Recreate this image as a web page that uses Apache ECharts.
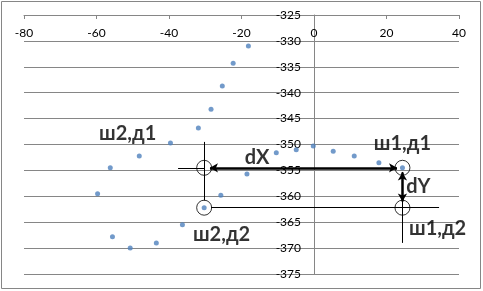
<!DOCTYPE html>
<html><head><meta charset="utf-8">
<script src="https://cdn.jsdelivr.net/npm/echarts@6/dist/echarts.min.js"></script>
<style>html,body{margin:0;padding:0;background:#fff}#c{width:483px;height:291px}</style>
</head><body><div id="c"></div>
<script>
// Measured points (x, y)
const xValues = [-18.1, -22.3, -25.3, -28.4, -31.9, -39.6, -48.2, -56.2, -59.7, -55.6, -50.7, -43.5, -36.3, -30.3, -25.7, -18.5, -10.4, -4.9, -0.2, 5.3, 11.1, 17.9, 24.4];
const yValues = [-331.0, -334.3, -338.7, -343.2, -346.8, -349.7, -352.2, -354.5, -359.5, -367.8, -370.0, -369.0, -365.5, -362.2, -359.8, -355.7, -351.6, -351.0, -350.3, -351.3, -352.2, -353.5, -354.5];
const xTicks = [-80, -60, -40, -20, 0, 20, 40];
const yTicks = [-375, -370, -365, -360, -355, -350, -345, -340, -335, -330, -325];

// Annotation anchors (data coordinates)
const markerNames = ['ш2,д1', 'ш1,д1', 'ш2,д2', 'ш1,д2'];
const markerX = [-30.3, 24.4, -30.3, 24.4];
const markerY = [-354.5, -354.5, -362.2, -362.2];
const labelTexts = ['ш2,д1', 'dX', 'ш1,д1', 'dY', 'ш1,д2', 'ш2,д2'];
const labelX = [-51.4, -15.7, 24.4, 28.8, 34.1, -25.5];
const labelY = [-347.9, -352.5, -349.9, -358.1, -366.2, -367.4];
const thinLines = [
  [[-37.5, -354.5], [-30.3, -354.5]],
  [[-30.3, -349.5], [-30.3, -360.8]],
  [[-28.4, -362.2], [34.5, -362.2]],
  [[24.4, -355.3], [24.4, -369.0]]
];
const arrowLines = [
  [[-28.7, -354.5], [22.9, -354.5]],
  [[24.4, -355.4], [24.4, -361.0]]
];

const gray = '#868686';
const font = 'Lato';
const W = 483, gridL = 24, gridR = 24;
const xMin = xTicks[0], xMax = xTicks[xTicks.length - 1];
const yAxisOffset = -(W - gridL - gridR) * (0 - xMin) / (xMax - xMin);
const chart = echarts.init(document.getElementById('c'), null, {renderer: 'canvas'});
chart.setOption({
  animation: false,
  backgroundColor: '#fff',
  grid: {left: gridL, right: gridR, top: 15, bottom: 17, containLabel: false, outerBoundsMode: 'none'},
  xAxis: {
    type: 'value', min: xMin, max: xMax, interval: 20,
    position: 'top',
    axisLine: {onZero: false, lineStyle: {color: gray, width: 1}},
    axisTick: {show: true, inside: true, length: 4, lineStyle: {color: gray}},
    axisLabel: {inside: true, margin: 12, color: '#000', fontFamily: font, fontSize: 12},
    splitLine: {show: false}
  },
  yAxis: {
    type: 'value', min: yTicks[0], max: yTicks[yTicks.length - 1], interval: 5,
    position: 'left', offset: yAxisOffset,
    axisLine: {show: true, onZero: false, lineStyle: {color: gray, width: 1}},
    axisTick: {show: false},
    axisLabel: {margin: 13, color: '#000', fontFamily: font, fontSize: 12},
    splitLine: {show: true, lineStyle: {color: gray, width: 1}}
  },
  graphic: [{
    type: 'rect', shape: {x: 1.5, y: 1.5, width: 479, height: 287},
    style: {fill: 'none', stroke: gray, lineWidth: 1}, silent: true
  }],
  series: [
    {
      type: 'line', data: [], silent: true,
      markLine: {
        silent: true, animation: false, symbol: ['none', 'none'],
        label: {show: false},
        lineStyle: {color: '#000', width: 1, type: 'solid'},
        data: thinLines.map(l => [{coord: l[0]}, {coord: l[1]}])
      }
    },
    {
      type: 'line', data: [], silent: true,
      markLine: {
        silent: true, animation: false, symbol: ['arrow', 'arrow'], symbolSize: [7, 8],
        label: {show: false},
        lineStyle: {color: '#000', width: 2.5, type: 'solid'},
        data: arrowLines.map(l => [{coord: l[0]}, {coord: l[1]}])
      }
    },
    {
      type: 'scatter', silent: true, symbol: 'circle', symbolSize: 15, z: 3,
      itemStyle: {color: 'rgba(0,0,0,0)', borderColor: '#000', borderWidth: 1},
      data: markerX.map((x, i) => ({name: markerNames[i], value: [x, markerY[i]]}))
    },
    {
      type: 'scatter', silent: true, symbol: 'circle', symbolSize: 5, z: 4,
      itemStyle: {color: '#4F81BD'},
      data: xValues.map((x, i) => [x, yValues[i]])
    },
    {
      type: 'scatter', silent: true, symbolSize: 0.1, z: 5,
      itemStyle: {color: 'rgba(0,0,0,0)'},
      label: {show: true, position: 'inside', formatter: p => p.name,
        color: '#000', fontFamily: font, fontWeight: 'bold', fontSize: 20},
      data: labelX.map((x, i) => ({name: labelTexts[i], value: [x, labelY[i]]}))
    }
  ]
});
</script></body></html>
